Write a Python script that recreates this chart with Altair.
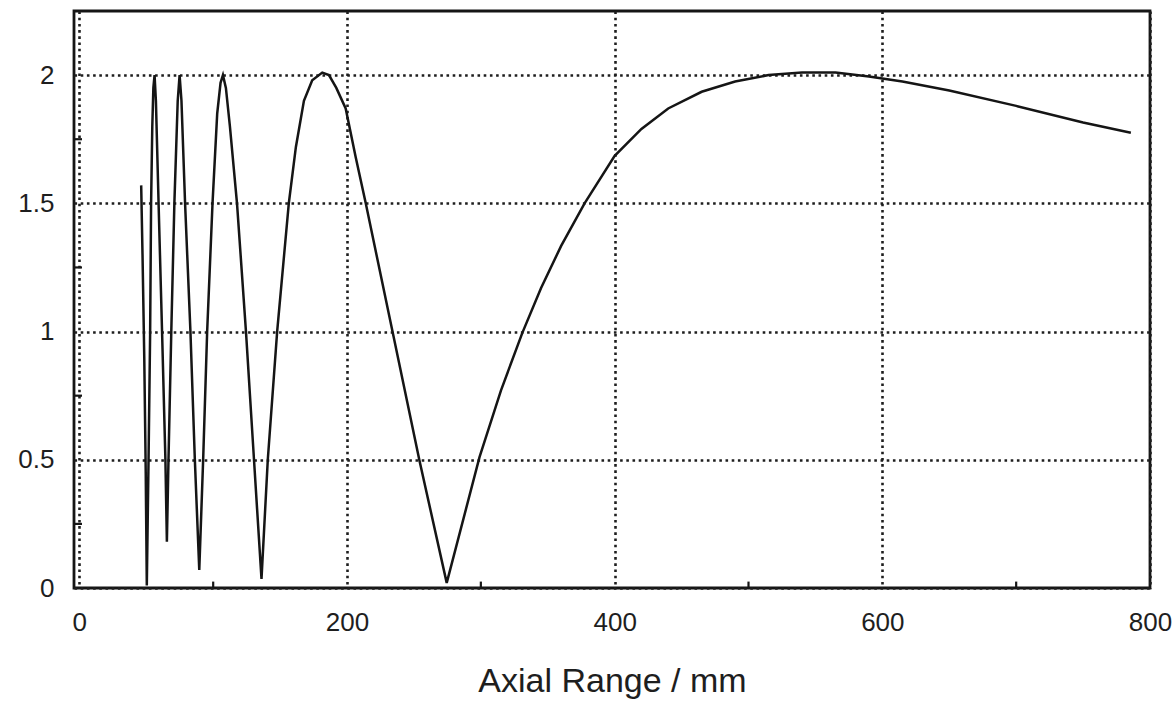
import altair as alt
import pandas as pd

# Curve values (Axial Range / mm, response)
axial_mm = [46.2, 47.2, 48.5, 49.6, 50.4,
            51.7, 52.9, 53.6, 54.5, 55.3, 56.2,
            57.2, 59.2, 61.8, 64.3, 65.4,
            66.6, 68.7, 71.0, 73.5, 74.9,
            76.3, 79.0, 83.0, 86.3, 89.6,
            92.5, 95.5, 99.5, 103.0, 105.5, 107.3,
            109.5, 112.5, 117.8, 124.5, 130.5, 136.1,
            140.8, 147.8, 156.5, 161.8, 167.8, 174.0, 181.5,
            186.5, 192.0, 199.0, 206.5, 214.0, 234.0, 254.0, 274.5,
            299.0, 315.0, 331.0, 345.0, 360.0, 377.5, 400.0, 420.0, 440.0,
            465.0, 490.0, 515.0, 540.0, 565.0, 590.0, 615.0, 650.0, 700.0,
            750.0, 785.7]
response = [1.57, 1.3, 0.9, 0.45, 0.01,
            0.5, 1.0, 1.5, 1.8, 1.95, 2.0,
            1.9, 1.5, 1.0, 0.5, 0.18,
            0.5, 1.0, 1.5, 1.9, 2.0,
            1.9, 1.5, 1.0, 0.5, 0.07,
            0.5, 1.0, 1.5, 1.85, 1.97, 2.0,
            1.95, 1.8, 1.5, 1.0, 0.5, 0.035,
            0.5, 1.0, 1.5, 1.72, 1.9, 1.98, 2.01,
            2.0, 1.95, 1.87, 1.68, 1.5, 1.0, 0.5, 0.02,
            0.51, 0.77, 0.995, 1.17, 1.334, 1.5, 1.685, 1.79, 1.87,
            1.935, 1.975, 2.0, 2.01, 2.01, 1.995, 1.975, 1.94, 1.88,
            1.815, 1.775]

x_ticks = [0, 200, 400, 600, 800]
x_minor = [100, 300, 500, 700]
y_ticks = [0, 0.5, 1, 1.5, 2]
y_minor = [0.25, 0.75, 1.25, 1.75]

df = pd.DataFrame({"x": axial_mm, "y": response})
dfx = pd.DataFrame({"x": x_minor})
dfy = pd.DataFrame({"y": y_minor})

FONT = "Liberation Sans"
xscale = alt.Scale(domain=[-4, 800], nice=False, zero=False)
yscale = alt.Scale(domain=[0, 2.25], nice=False)

xaxis = alt.Axis(values=x_ticks, title="Axial Range / mm", grid=True,
                 gridDash=[2.6, 3.6], gridWidth=2.6, gridColor="#1e1e1e",
                 domain=False, ticks=False, labelFontSize=26,
                 labelPadding=21, labelColor="#1e1e1e", labelFont=FONT,
                 titleFont=FONT, titleFontSize=34, titleFontWeight="normal",
                 titleColor="#1e1e1e", titlePadding=29, labelFlush=False)
yaxis = alt.Axis(values=y_ticks, title=None, grid=True, format="~g",
                 gridDash=[2.6, 3.6], gridWidth=2.6, gridColor="#1e1e1e",
                 domain=False, ticks=False, labelFontSize=26,
                 labelPadding=20, labelColor="#1e1e1e", labelFont=FONT)

line = alt.Chart(df).mark_line(color="#151515", strokeWidth=2.5).encode(
    x=alt.X("x:Q", scale=xscale, axis=xaxis, title="Axial Range / mm"),
    y=alt.Y("y:Q", scale=yscale, axis=yaxis, title=None),
)

xmin = alt.Chart(dfx).mark_rule(color="#151515", strokeWidth=2.2).encode(
    x=alt.X("x:Q", scale=xscale, axis=xaxis, title="Axial Range / mm"),
    y=alt.datum(0, scale=yscale, axis=yaxis, title=None),
    y2=alt.datum(0.025),
)
ymin = alt.Chart(dfy).mark_rule(color="#151515", strokeWidth=2.2).encode(
    y=alt.Y("y:Q", scale=yscale, axis=yaxis, title=None),
    x=alt.datum(-4, scale=xscale, axis=xaxis, title="Axial Range / mm"),
    x2=alt.datum(2),
)

chart = alt.layer(line, xmin, ymin).properties(
    width=1076, height=577,
    autosize=alt.AutoSizeParams(type="none"),
    padding={"left": 74, "top": 11, "right": 24, "bottom": 114},
    background="white",
).configure_view(stroke="#151515", strokeWidth=2.8).configure_axis(
    gridOpacity=1
)

chart.save("out.html", embed_options={"renderer": "svg", "actions": False})
